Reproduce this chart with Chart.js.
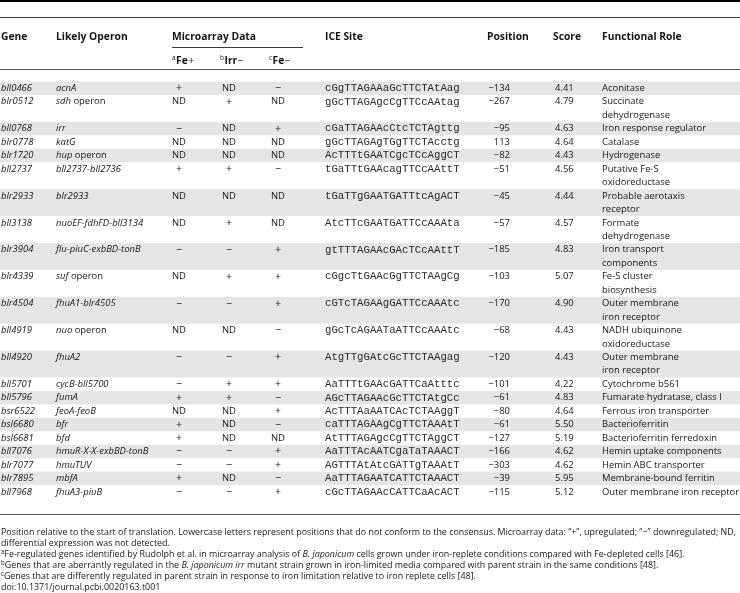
<!DOCTYPE html>
<html>
<head>
<meta charset="utf-8">
<script src="https://cdn.jsdelivr.net/npm/chart.js@4.4.1/dist/chart.umd.min.js"></script>
<style>
  html, body { margin: 0; padding: 0; background: #fff; }
  canvas { display: block; }
</style>
</head>
<body>
<canvas id="tabla" width="740" height="593"></canvas>
<script>
// datos de la tabla
const genes = ['bll0466', 'blr0512', 'bll0768', 'blr0778', 'blr1720', 'bll2737', 'blr2933', 'bll3138',
  'blr3904', 'blr4339', 'blr4504', 'bll4919', 'bll4920', 'bll5701', 'bll5796', 'bsr6522', 'bsl6680',
  'bsl6681', 'bll7076', 'blr7077', 'blr7895', 'bll7968'];
const operones = ['acnA', 'sdh operon', 'irr', 'katG', 'hup operon', 'bll2737-bll2736', 'blr2933',
  'nuoEF-fdhFD-bll3134', 'flu-piuC-exbBD-tonB', 'suf operon', 'fhuA1-blr4505', 'nuo operon', 'fhuA2',
  'cycB-bll5700', 'fumA', 'feoA-feoB', 'bfr', 'bfd', 'hmuR-X-X-exbBD-tonB', 'hmuTUV', 'mbfA', 'fhuA3-piuB'];
const feMas = ['+', 'ND', '−', 'ND', 'ND', '+', 'ND', 'ND', '−', 'ND', '−', 'ND', '−', '−', '+', 'ND', '+', '+', '−', '−', '+', '−'];
const irrMenos = ['ND', '+', 'ND', 'ND', 'ND', '+', 'ND', '+', '−', '+', '−', 'ND', '−', '+', '+', 'ND', 'ND', 'ND', '−', '−', 'ND', '−'];
const feMenos = ['−', 'ND', '+', 'ND', 'ND', '−', 'ND', 'ND', '+', '+', '+', '−', '+', '+', '−', '+', '−', 'ND', '+', '+', '−', '+'];
const sitiosIce = ['cGgTTAGAAaGcTTCTAtAag', 'gGcTTAGAgcCgTTCcAAtag', 'cGaTTAGAAcCtcTCTAgttg',
  'gGcTTAGAgTGgTTCTAcctg', 'AcTTTtGAATCgcTCcAggCT', 'tGaTTtGAAcagTTCcAAttT', 'tGaTTgGAATGATTtcAgACT',
  'AtcTTcGAATGATTCcAAAta', 'gtTTTAGAAcGAcTCcAAttT', 'cGgcTtGAAcGgTTCTAAgCg', 'cGTcTAGAAgGATTCcAAAtc',
  'gGcTcAGAATaATTCcAAAtc', 'AtgTTgGAtcGcTTCTAAgag', 'AaTTTtGAAcGATTCaAtttc', 'AGcTTAGAAcGcTTCTAtgCc',
  'AcTTTAaAATCAcTCTAAggT', 'caTTTAGAAgCgTTCTAAAtT', 'AtTTTAGAgcCgTTCTAggCT', 'AaTTTAcAATCgaTaTAAACT',
  'AGTTTAtAtcGATTgTAAAtT', 'AaTTTAGAATCATTCTAAACT', 'cGcTTAGAAcCATTCaAcACT'];
const posiciones = [-134, -267, -95, 113, -82, -51, -45, -57, -185, -103, -170, -68, -120, -101, -61, -80, -61, -127, -166, -303, -39, -115];
const puntajes = ['4.41', '4.79', '4.63', '4.64', '4.43', '4.56', '4.44', '4.57', '4.83', '5.07', '4.90', '4.43',
  '4.43', '4.22', '4.83', '4.64', '5.50', '5.19', '4.62', '4.62', '5.95', '5.12'];
const roles = ['Aconitase', 'Succinate\ndehydrogenase', 'Iron response regulator', 'Catalase', 'Hydrogenase',
  'Putative Fe-S\noxidoreductase', 'Probable aerotaxis\nreceptor', 'Formate\ndehydrogenase',
  'Iron transport\ncomponents', 'Fe-S cluster\nbiosynthesis', 'Outer membrane\niron receptor',
  'NADH ubiquinone\noxidoreductase', 'Outer membrane\niron receptor', 'Cytochrome b561',
  'Fumarate hydratase, class I', 'Ferrous iron transporter', 'Bacterioferritin', 'Bacterioferritin ferredoxin',
  'Hemin uptake components', 'Hemin ABC transporter', 'Membrane-bound ferritin', 'Outer membrane iron receptor'];
const encabezados = ['Gene', 'Likely Operon', 'Microarray Data', 'ICE Site', 'Position', 'Score', 'Functional Role'];
const subEncabezados = [['a', 'Fe', '+'], ['b', 'Irr', '−'], ['c', 'Fe', '−']];
const notas = [
  [['', 'Position relative to the start of translation. Lowercase letters represent positions that do not conform to the consensus. Microarray data: “+”, upregulated; “−” downregulated; ND,']],
  [['', 'differential expression was not detected.']],
  [['sup', 'a'], ['', 'Fe-regulated genes identified by Rudolph et al. in microarray analysis of '], ['i', 'B. japonicum'], ['', ' cells grown under iron-replete conditions compared with Fe-depleted cells [46].']],
  [['sup', 'b'], ['', 'Genes that are aberrantly regulated in the '], ['i', 'B. japonicum irr'], ['', ' mutant strain grown in iron-limited media compared with parent strain in the same conditions [48].']],
  [['sup', 'c'], ['', 'Genes that are differently regulated in parent strain in response to iron limitation relative to iron replete cells [48].']],
  [['', 'doi:10.1371/journal.pcbi.0020163.t001']]
];

// estilo
const SANS = '"Open Sans", "Noto Sans", sans-serif';
const MONO = '"Liberation Mono", "DejaVu Sans Mono", monospace';
const colX = { gene: 1, operon: 56, fe1: 172, irr: 222, fe2: 271, ice: 325, pos: 510, posHead: 487, score: 555, rol: 602 };
const colorTexto = '#161616';
const colorBanda = '#e5e5e5';

function dibujarTabla(chart) {
  const ctx = chart.ctx;
  const sx = chart.scales.x, sy = chart.scales.y;
  const px = v => sx.getPixelForValue(v);
  const py = v => sy.getPixelForValue(v);
  const W = px(740) - px(0);

  ctx.save();
  ctx.fillStyle = '#fff';
  ctx.fillRect(0, 0, chart.width, chart.height);

  // filas: cada fila ocupa tantas lineas como su rol funcional
  let linea = 0;
  const inicio = genes.map((g, i) => { const s = linea; linea += roles[i].split('\n').length; return s; });

  // bandas grises alternas
  ctx.fillStyle = colorBanda;
  genes.forEach((g, i) => {
    if (i % 2 !== 0) return;
    const n = roles[i].split('\n').length;
    const y0 = py(inicio[i] - 0.5), y1 = py(inicio[i] + n - 0.5);
    ctx.fillRect(px(0), y0, W, y1 - y0);
  });

  // reglas
  function regla(v, grosor, color, x0 = 0, x1 = 740) {
    ctx.fillStyle = color;
    ctx.fillRect(px(x0), Math.round(py(v) - grosor / 2), px(x1) - px(x0), grosor);
  }
  regla(-6.49, 2, '#000');
  regla(-5.30, 1, '#3a3a3a');
  regla(-3.05, 1, '#3a3a3a', colX.fe1, 303);
  regla(-1.43, 1, '#555');
  regla(31.72, 1, '#555');

  ctx.textBaseline = 'middle';
  ctx.fillStyle = colorTexto;

  // encabezados
  const yH = py(-3.8), ySub = py(-2.05);
  ctx.font = 'bold 10.3px ' + SANS;
  const xsH = [colX.gene, colX.operon, colX.fe1, colX.ice, colX.posHead, colX.score - 2, colX.rol];
  encabezados.forEach((t, k) => ctx.fillText(t, px(xsH[k]), yH));
  [colX.fe1, colX.irr - 2, colX.fe2 - 2].forEach((x0, k) => {
    const [sup, base, signo] = subEncabezados[k];
    let x = px(x0);
    ctx.font = '6.5px ' + SANS;
    ctx.fillText(sup, x, ySub - 3);
    x += ctx.measureText(sup).width + 0.5;
    ctx.font = 'bold 10.3px ' + SANS;
    ctx.fillText(base, x, ySub);
    x += ctx.measureText(base).width + 0.5;
    ctx.font = '10.3px ' + SANS;
    ctx.fillText(signo, x, ySub);
  });

  // celdas
  const f = '9.45px ' + SANS, fi = 'italic 9.45px ' + SANS;
  ctx.font = f;
  const anchoND = ctx.measureText('ND').width;
  function celdaMicro(val, x0, y) {
    ctx.font = f;
    if (val === 'ND') { ctx.textAlign = 'left'; ctx.fillText(val, px(x0), y); }
    else { ctx.textAlign = 'center'; ctx.font = '10.5px ' + SANS; ctx.fillText(val, px(x0) + anchoND / 2, y); }
    ctx.textAlign = 'left';
  }
  genes.forEach((g, i) => {
    const y = py(inicio[i]);
    ctx.fillStyle = colorTexto;
    ctx.font = fi;
    ctx.fillText(g, px(colX.gene), y);
    const op = operones[i];
    if (op.endsWith(' operon')) {
      const nombre = op.slice(0, -7);
      ctx.fillText(nombre, px(colX.operon), y);
      const w = ctx.measureText(nombre).width;
      ctx.font = f;
      ctx.fillText(' operon', px(colX.operon) + w, y);
    } else {
      ctx.fillText(op, px(colX.operon), y);
    }
    celdaMicro(feMas[i], colX.fe1, y);
    celdaMicro(irrMenos[i], colX.irr, y);
    celdaMicro(feMenos[i], colX.fe2, y);
    ctx.font = '10.7px ' + MONO;
    ctx.fillStyle = '#2a2a2a';
    ctx.fillText(sitiosIce[i], px(colX.ice), y);
    ctx.fillStyle = colorTexto;
    ctx.font = f;
    ctx.textAlign = 'right';
    const p = posiciones[i];
    ctx.fillText(p < 0 ? '−' + Math.abs(p) : String(p), px(colX.pos), y);
    ctx.textAlign = 'left';
    ctx.fillText(puntajes[i], px(colX.score), y);
    roles[i].split('\n').forEach((r, k) => ctx.fillText(r, px(colX.rol), py(inicio[i] + k)));
  });

  // notas al pie: se comprimen en horizontal para que la primera linea quepa
  const fn = '9.3px ' + SANS;
  ctx.font = fn;
  const primera = notas[0][0][1];
  const anchoNat = ctx.measureText(primera).width;
  const disponible = px(736) - px(1);
  const comp = Math.min(1, disponible / anchoNat);
  notas.forEach((partes, k) => {
    const y = py(33.0 + k * 0.82);
    ctx.save();
    ctx.translate(px(1), 0);
    ctx.scale(comp, 1);
    let x = 0;
    if (k === 0) {
      ctx.font = fn;
      const palabras = primera.split(' ');
      const anchoPal = palabras.reduce((s, w) => s + ctx.measureText(w).width, 0);
      const hueco = (disponible / comp - anchoPal) / (palabras.length - 1);
      palabras.forEach(w => { ctx.fillText(w, x, y); x += ctx.measureText(w).width + hueco; });
    } else {
      partes.forEach(([tipo, t]) => {
        if (tipo === 'sup') {
          ctx.font = '6.3px ' + SANS;
          ctx.fillText(t, x, y - 2.5);
        } else {
          ctx.font = (tipo === 'i' ? 'italic ' : '') + fn;
          ctx.fillText(t, x, y);
        }
        x += ctx.measureText(t).width;
      });
    }
    ctx.restore();
  });
  ctx.restore();
}

const lineasTotales = roles.reduce((s, r) => s + r.split('\n').length, 0);

new Chart(document.getElementById('tabla'), {
  type: 'scatter',
  data: { datasets: [] },
  options: {
    responsive: false,
    animation: false,
    devicePixelRatio: 1,
    layout: { padding: 0 },
    plugins: { legend: { display: false }, tooltip: { enabled: false } },
    scales: {
      x: { type: 'linear', min: 0, max: 740, display: false },
      y: { type: 'linear', min: -6.565, max: lineasTotales + 6.52, reverse: true, display: false }
    }
  },
  plugins: [{ id: 'tabla', beforeDraw: dibujarTabla }]
});
</script>
</body>
</html>
